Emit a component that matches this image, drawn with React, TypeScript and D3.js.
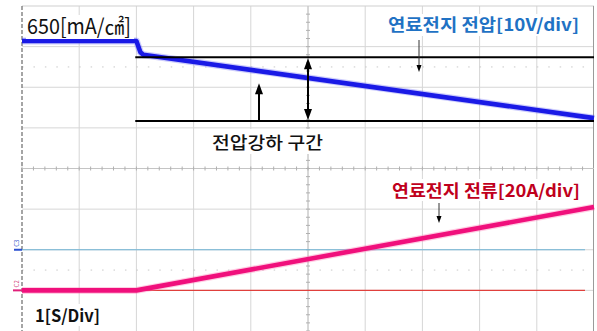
import React from "react";
import * as d3 from "d3";

// Horizontal: 1 s per division, 10 divisions on screen
const timeDivs = [0, 1, 2, 3, 4, 5, 6, 7, 8, 9, 10];
// Vertical: 8 divisions, 0 at screen centre
const levelDivs = [-4, -3, -2, -1, 0, 1, 2, 3, 4];

// Fuel-cell voltage trace (time in s, level in divisions; 10 V/div)
const voltageTime = [0, 2.0, 2.07, 2.12, 10];
const voltageDiv = [3.14, 3.14, 2.86, 2.8, 1.24];

// Fuel-cell current trace (time in s, current in A; 20 A/div)
const currentTime = [0, 2.0, 10];
const currentAmp = [0, 0, 41];
const currentOffsetDiv = -3; // C2 ground marker
const currentPerDiv = 20;
const refC3Div = -2; // C3 marker line

// Voltage-drop window bounds (divisions) and start time
const dropBandTop = 2.74;
const dropBandBottom = 1.17;
const dropBandStart = 1.98;

const W = 597;
const H = 331;

const x = d3.scaleLinear().domain([0, 10]).range([22, 594]);
const y = d3.scaleLinear().domain([-4, 4]).range([331, 6]);

const traceLine = d3
  .line<[number, number]>()
  .x((d) => x(d[0]))
  .y((d) => y(d[1]));

function ArrowHead({ cx, cy, dir, w = 8, l = 11 }: { cx: number; cy: number; dir: 1 | -1; w?: number; l?: number }) {
  // dir = -1 points up, 1 points down; (cx, cy) is the tip
  const p = `M${cx},${cy} L${cx - w / 2},${cy - dir * l} L${cx + w / 2},${cy - dir * l} Z`;
  return <path d={p} fill="#000" />;
}

export default function App() {
  const voltagePts: [number, number][] = voltageTime.map((t, i) => [t, voltageDiv[i]]);
  const currentPts: [number, number][] = currentTime.map((t, i) => [
    t,
    currentOffsetDiv + currentAmp[i] / currentPerDiv,
  ]);

  const minorX = d3.range(0, 50).map((i) => i * 0.2);
  const minorY = d3.range(0, 40).map((i) => -4 + i * 0.2);
  const font = "'Noto Sans CJK KR', 'Noto Sans', sans-serif";

  const xMid = x(5);
  const yMid = y(0);

  return (
    <div style={{ position: "absolute", left: 0, top: 0 }}>
      <svg width={W} height={H} style={{ display: "block", background: "#fff" }}>
        {/* grid */}
        {timeDivs.slice(1, 10).map((t) => (
          <line key={"gv" + t} x1={x(t)} x2={x(t)} y1={y(4)} y2={y(-4)} stroke="#d6d6d6" strokeWidth={1} />
        ))}
        {levelDivs.slice(1, 8).map((v) => (
          <line key={"gh" + v} x1={x(0)} x2={x(10)} y1={y(v)} y2={y(v)} stroke="#d6d6d6" strokeWidth={1} />
        ))}
        {[2.5, -2.5].map((v) => (
          <line
            key={"dot" + v}
            x1={x(0)}
            x2={x(10)}
            y1={y(v)}
            y2={y(v)}
            stroke="#c8c8c8"
            strokeWidth={1}
            strokeDasharray={`1.5 ${x(0.2) - x(0) - 1.5}`}
          />
        ))}
        <line x1={x(0)} x2={x(10)} y1={y(4)} y2={y(4)} stroke="#cfcfcf" strokeWidth={1.2} />
        <line x1={x(10) - 0.5} x2={x(10) - 0.5} y1={y(4)} y2={y(-4)} stroke="#9a9a9a" strokeWidth={1} />
        <line x1={x(0)} x2={x(0)} y1={y(4)} y2={y(-4)} stroke="#6a6a6a" strokeWidth={1.2} strokeDasharray="4 2" />
        {/* centre axes with minor ticks */}
        <line x1={xMid} x2={xMid} y1={y(4)} y2={y(-4)} stroke="#c4c4c4" strokeWidth={1} />
        <line x1={x(0)} x2={x(10)} y1={yMid} y2={yMid} stroke="#c4c4c4" strokeWidth={1} />
        {minorX.map((t) => (
          <line key={"tx" + t} x1={x(t)} x2={x(t)} y1={yMid - 2} y2={yMid + 2} stroke="#b0b0b0" strokeWidth={1} />
        ))}
        {minorY.map((v) => (
          <line key={"ty" + v} x1={xMid - 2} x2={xMid + 2} y1={y(v)} y2={y(v)} stroke="#b0b0b0" strokeWidth={1} />
        ))}

        {/* channel reference lines */}
        <line x1={x(0)} x2={585} y1={y(refC3Div)} y2={y(refC3Div)} stroke="#6fb5d6" strokeWidth={1.2} />
        <line x1={x(0)} x2={585} y1={y(currentOffsetDiv)} y2={y(currentOffsetDiv)} stroke="#e0403c" strokeWidth={1.2} />
        <line x1={14} x2={22} y1={y(refC3Div)} y2={y(refC3Div)} stroke="#2a4fd0" strokeWidth={2} />
        <line x1={13} x2={22} y1={y(currentOffsetDiv)} y2={y(currentOffsetDiv)} stroke="#e0207a" strokeWidth={2} />
        <text
          transform={`translate(18.5,${y(refC3Div) - 3}) rotate(-90)`}
          fontSize={6}
          fill="#3050c8"
          fontFamily={font}
        >
          C3
        </text>
        <text
          transform={`translate(18.5,${y(currentOffsetDiv) - 3}) rotate(-90)`}
          fontSize={6}
          fill="#d0407a"
          fontFamily={font}
        >
          C2
        </text>

        {/* traces */}
        <path d={traceLine(voltagePts) ?? ""} fill="none" stroke="#6f6ff5" strokeWidth={7} strokeOpacity={0.35} strokeLinejoin="round" />
        <path d={traceLine(voltagePts) ?? ""} fill="none" stroke="#1a1ae6" strokeWidth={4.6} strokeLinejoin="round" />
        <path d={traceLine(currentPts) ?? ""} fill="none" stroke="#ff6fae" strokeWidth={7} strokeOpacity={0.35} strokeLinejoin="round" />
        <path d={traceLine(currentPts) ?? ""} fill="none" stroke="#f0107c" strokeWidth={4.6} strokeLinejoin="round" />

        {/* voltage-drop window */}
        <line x1={x(dropBandStart)} x2={x(10)} y1={y(dropBandTop)} y2={y(dropBandTop)} stroke="#000" strokeWidth={2} />
        <line x1={x(dropBandStart)} x2={x(10)} y1={y(dropBandBottom)} y2={y(dropBandBottom)} stroke="#000" strokeWidth={2} />
        <line x1={xMid} x2={xMid} y1={y(dropBandTop) + 9} y2={y(dropBandBottom) - 9} stroke="#000" strokeWidth={2} />
        <ArrowHead cx={xMid} cy={y(dropBandTop) + 1} dir={-1} />
        <ArrowHead cx={xMid} cy={y(dropBandBottom) - 1} dir={1} />
        <line x1={259} x2={259} y1={y(dropBandBottom)} y2={y(2.1) + 8} stroke="#000" strokeWidth={2} />
        <ArrowHead cx={259} cy={y(2.1)} dir={-1} />

        {/* labels */}
        <rect x={26} y={15} width={108} height={24} fill="#fff" />
        <text x={27} y={34} fontSize={21} fill="#111" fontFamily={font} textLength={104} lengthAdjust="spacingAndGlyphs">
          650[mA/㎠]
        </text>

        <rect x={386} y={14} width={196} height={22} fill="#fff" />
        <text
          x={388}
          y={31}
          fontSize={17}
          fontWeight={700}
          fill="#1f72c4"
          fontFamily={font}
          textLength={191}
          lengthAdjust="spacingAndGlyphs"
        >
          연료전지 전압[10V/div]
        </text>
        <line x1={419} x2={419} y1={40} y2={66} stroke="#333" strokeWidth={1} />
        <ArrowHead cx={419} cy={72} dir={1} w={5} l={7} />

        <rect x={390} y={179} width={193} height={22} fill="#fff" />
        <text
          x={392}
          y={197}
          fontSize={17}
          fontWeight={700}
          fill="#c0001c"
          fontFamily={font}
          textLength={188}
          lengthAdjust="spacingAndGlyphs"
        >
          연료전지 전류[20A/div]
        </text>
        <line x1={439} x2={439} y1={203} y2={217} stroke="#333" strokeWidth={1} />
        <ArrowHead cx={439} cy={223} dir={1} w={5} l={7} />

        <rect x={209} y={129} width={117} height={25} fill="#fff" />
        <text
          x={212}
          y={149}
          fontSize={17.5}
          fontWeight={500}
          fill="#111"
          fontFamily={font}
          textLength={111}
          lengthAdjust="spacingAndGlyphs"
        >
          전압강하 구간
        </text>

        <rect x={33} y={304} width={70} height={22} fill="#fff" />
        <text
          x={35}
          y={322}
          fontSize={17}
          fontWeight={700}
          fill="#111"
          fontFamily={font}
          textLength={65}
          lengthAdjust="spacingAndGlyphs"
        >
          1[S/Div]
        </text>
      </svg>
    </div>
  );
}
